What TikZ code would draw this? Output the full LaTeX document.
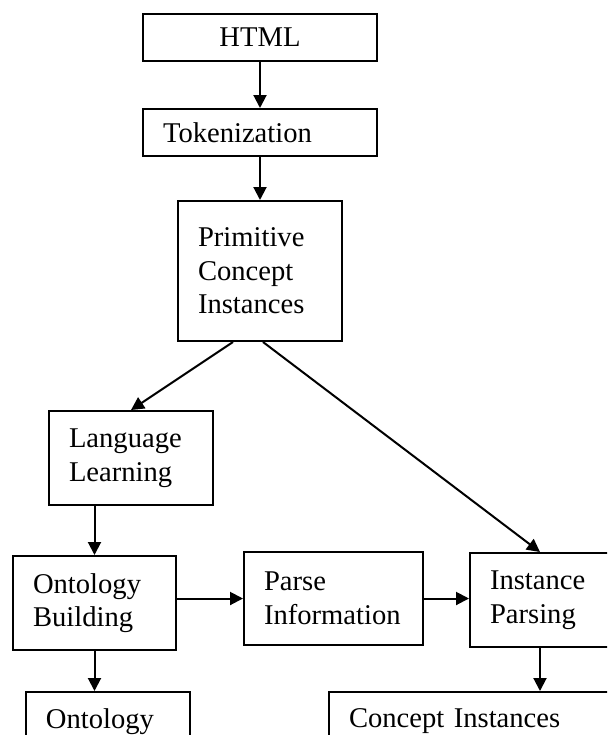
\documentclass[tikz,border=0pt]{standalone}
\usepackage{fontspec}
\setmainfont{Liberation Serif}
\usepackage{tikz}
\usetikzlibrary{arrows.meta}
\usetikzlibrary{calc}
\newcommand{\flowfont}{\fontsize{14.3pt}{16.8pt}\selectfont}

\begin{document}
\begin{tikzpicture}[x=0.5pt, y=-0.5pt,
		stage/.style={draw, line width=1pt, inner xsep=10pt, inner ysep=0pt,
			align=left, font=\flowfont},
		flow/.style={line width=1pt, -{Triangle[length=6.5pt, width=6.5pt]}}]
		% Frame
		\useasboundingbox (0,0) rectangle (607,735);
		\clip (0,0) rectangle (607,735);
		% Stages
		\node[stage, align=center, text width=97pt, minimum width=117pt,
			minimum height=23.5pt] (html) at (260,37.5) {HTML};
		\node[stage, text width=97pt, minimum width=117pt,
			minimum height=23.5pt] (tok) at (260,132.5) {Tokenization};
		\node[stage, text width=62pt, minimum width=82pt,
			minimum height=70pt] (prim) at (260,271) {Primitive\\Concept\\Instances};
		\node[stage, text width=62pt, minimum width=82pt,
			minimum height=47pt] (ll) at (131,458) {Language\\Learning};
		\node[stage, text width=61.5pt, minimum width=81.5pt,
			minimum height=47pt] (ob) at (94.5,603) {Ontology\\Building};
		\node[stage, text width=69.5pt, minimum width=89.5pt,
			minimum height=46.5pt] (parse) at (333.5,598.5) {Parse\\Information};
		\node[stage, text width=50pt, minimum width=70pt,
			minimum height=47pt] (ip) at (540,600) {Instance\\Parsing};
		% Results
		\node[stage, text width=62pt, minimum width=82pt,
			minimum height=29.5pt] (onto) at (108,721.5) {Ontology};
		\node[stage, text width=135.5pt, minimum width=155.5pt,
			minimum height=29.5pt] (ci) at (484.5,721.5) {Concept Instances};
		% Flow
		\draw[flow] (html) -- (tok);
		\draw[flow] (tok) -- (prim);
		\draw[flow] ($(prim.south)+(-27,0)$) -- (ll.north);
		\draw[flow] ($(prim.south)+(3,0)$) -- (ip.north);
		\draw[flow] (ll.south -| ob.north) -- (ob.north);
		\draw[flow] (ob.east |- parse.west) -- (parse.west);
		\draw[flow] (parse.east) -- (parse.east -| ip.west);
		\draw[flow] (ob.south) -- (ob.south |- onto.north);
		\draw[flow] (ip.south) -- (ip.south |- ci.north);
	\end{tikzpicture}
\end{document}
